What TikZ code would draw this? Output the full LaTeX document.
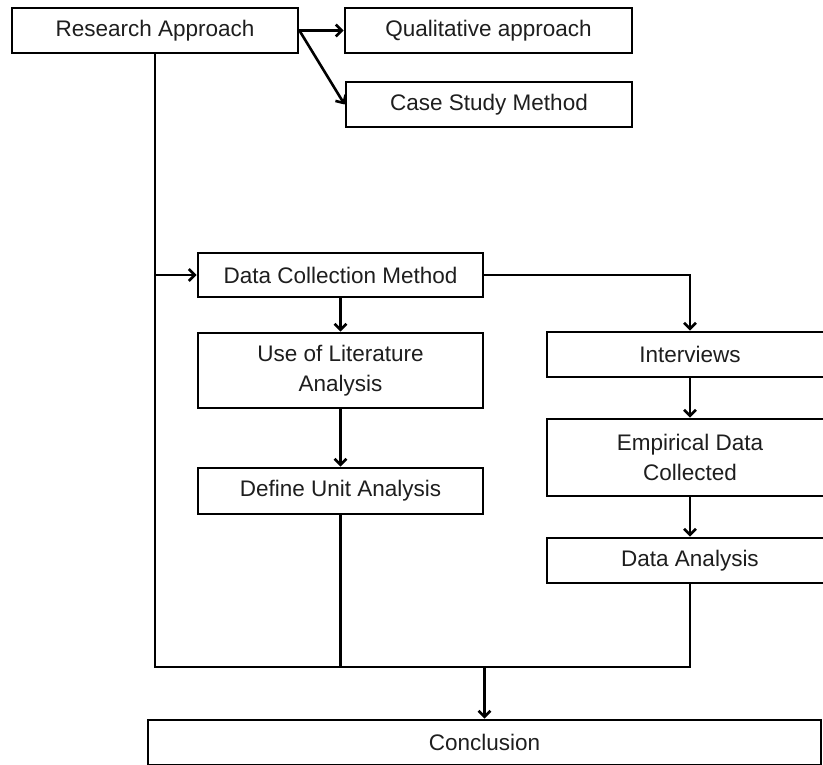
\documentclass[tikz,border=0pt]{standalone}
\usepackage{fontspec}
\setmainfont{Liberation Sans}
\usetikzlibrary{arrows.meta,calc}
\definecolor{txt}{HTML}{1E1E1E}
\begin{document}
\begin{tikzpicture}[x=1bp,y=-1bp,
  box/.style={draw=black,line width=2.8bp,fill=white,inner sep=0pt,text=txt,
    font=\fontsize{22.5bp}{30bp}\selectfont,align=center},
  conn/.style={draw=black,line width=2.6bp},
  arr/.style={conn,-{Straight Barb[length=6bp,width=12bp,line width=2.6bp]}}]
\useasboundingbox (0,0) rectangle (823,765);
\node[box,minimum width=286bp,minimum height=45bp] (ra) at (155,30.5) {Research Approach};
\node[box,minimum width=287bp,minimum height=45bp] (qa) at (488.5,30.5) {Qualitative approach};
\node[box,minimum width=286bp,minimum height=45bp] (cs) at (489,104.5) {Case Study Method};
\node[box,minimum width=285bp,minimum height=44bp] (dcm) at (340.5,275) {Data Collection Method};
\node[box,minimum width=285bp,minimum height=75bp] (ula) at (340.5,370.5) {Use of Literature\\Analysis};
\node[box,minimum width=285bp,minimum height=46bp] (dua) at (340.5,491) {Define Unit Analysis};
\node[box,minimum width=286bp,minimum height=45bp] (int) at (690,354.5) {Interviews};
\node[box,minimum width=286bp,minimum height=77bp] (emp) at (690,457.5) {Empirical Data\\Collected};
\node[box,minimum width=286bp,minimum height=45bp] (da) at (690,560.5) {Data Analysis};
\node[box,minimum width=673bp,minimum height=45bp] (con) at (484.5,742.5) {Conclusion};
\coordinate (bl) at (153,667);
% top arrows
\draw[arr] (ra.east) -- (qa.west);
\draw[arr] (ra.east) -- (cs.west);
% left spine
\draw[conn] (ra.south) -- (ra.south |- bl);
\draw[arr] (ra.south |- dcm.west) -- (dcm.west);
% middle column
\draw[arr] (dcm.south) -- (ula.north);
\draw[arr] (ula.south) -- (dua.north);
\draw[conn] (dua.south) -- (dua.south |- bl);
% right column
\draw[arr] (dcm.east) -| (int.north);
\draw[arr] (int.south) -- (emp.north);
\draw[arr] (emp.south) -- (da.north);
\draw[conn] (da.south) -- (da.south |- bl);
% bottom join
\draw[conn,line cap=rect] (ra.south |- bl) -- (da.south |- bl);
\draw[arr] (con.north |- bl) -- (con.north);
\end{tikzpicture}
\end{document}
